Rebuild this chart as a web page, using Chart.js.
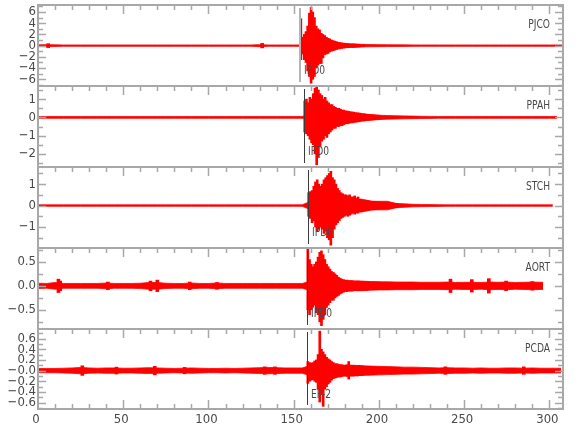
<!DOCTYPE html>
<html>
<head>
<meta charset="utf-8">
<script src="https://cdn.jsdelivr.net/npm/chart.js@4.4.0/dist/chart.umd.min.js"></script>
<style>
  html, body { margin: 0; padding: 0; background: #fff; }
  #wrap { position: relative; width: 580px; height: 440px; }
  #wrap canvas { position: absolute; left: 0; top: 0; }
</style>
</head>
<body>
<div id="wrap"></div>
<script>
// ---- data ----
const stations = ['PJCO', 'PPAH', 'STCH', 'AORT', 'PCDA']
const pickNames = ['IPD0', 'IPD0', 'IPD0', 'IPD0', 'EP-2']
const pickTimes = [153.7, 156.2, 158.6, 158.0, 158.0]
const traceEnd = [308, 304.5, 302, 296.3, 306.8]

const xTicks = [0, 50, 100, 150, 200, 250, 300]

const yMin = [-7.2, -2.72, -1.98, -0.9, -0.72]
const yMax = [7.25, 1.72, 1.8, 0.79, 0.78]
const yTickVals = [
  [-6, -4, -2, 0, 2, 4, 6],
  [-2, -1, 0, 1],
  [-1, 0, 1],
  [-0.5, 0, 0.5],
  [-0.6, -0.4, -0.2, 0, 0.2, 0.4, 0.6]
]
const yTickText = [
  ['−6', '−4', '−2', '0', '2', '4', '6'],
  ['−2', '−1', '0', '1'],
  ['−1', '0', '1'],
  ['−0.5', '0.0', '0.5'],
  ['−0.6', '−0.4', '−0.2', '−0.0', '0.2', '0.4', '0.6']
]
const yMinor = [1, 0.5, 0.5, 0.25, 0.1]

// background noise half-amplitude, one value every 5 s from t=0
const noiseStep = 5
const noise = [
  [0.15, 0.18, 0.15, 0.12, 0.12, 0.12, 0.12, 0.12, 0.12, 0.12,
   0.12, 0.12, 0.12, 0.12, 0.12, 0.12, 0.12, 0.12, 0.12, 0.12,
   0.12, 0.12, 0.12, 0.12, 0.12, 0.12, 0.18, 0.12, 0.12, 0.12,
   0.12, 0.12, 0.3, 0.3, 0.3, 0.3, 0.3, 0.3, 0.22, 0.2,
   0.18, 0.16, 0.15, 0.14, 0.13, 0.12, 0.12, 0.12, 0.12, 0.12,
   0.12, 0.12, 0.12, 0.12, 0.12, 0.12, 0.12, 0.12, 0.12, 0.12,
   0.12, 0.12],
  [0.05, 0.05, 0.05, 0.05, 0.05, 0.05, 0.05, 0.05, 0.05, 0.05,
   0.05, 0.05, 0.05, 0.05, 0.05, 0.05, 0.05, 0.05, 0.05, 0.05,
   0.05, 0.05, 0.05, 0.05, 0.05, 0.05, 0.05, 0.05, 0.05, 0.05,
   0.05, 0.05, 0.2, 0.2, 0.2, 0.2, 0.2, 0.2, 0.18, 0.15,
   0.12, 0.1, 0.09, 0.08, 0.07, 0.06, 0.055, 0.05, 0.05, 0.05,
   0.05, 0.05, 0.05, 0.05, 0.05, 0.05, 0.05, 0.05, 0.05, 0.05,
   0.05],
  [0.035, 0.035, 0.035, 0.035, 0.035, 0.035, 0.035, 0.035, 0.035, 0.035,
   0.035, 0.035, 0.035, 0.035, 0.035, 0.035, 0.035, 0.035, 0.035, 0.035,
   0.035, 0.035, 0.035, 0.035, 0.035, 0.035, 0.035, 0.035, 0.035, 0.035,
   0.035, 0.035, 0.2, 0.2, 0.2, 0.2, 0.2, 0.2, 0.2, 0.2,
   0.2, 0.2, 0.1, 0.08, 0.06, 0.05, 0.045, 0.04, 0.035, 0.035,
   0.035, 0.035, 0.035, 0.035, 0.035, 0.035, 0.035, 0.035, 0.035, 0.035,
   0.035],
  [0.055, 0.05, 0.07, 0.05, 0.05, 0.05, 0.05, 0.05, 0.06, 0.05,
   0.05, 0.05, 0.055, 0.07, 0.07, 0.055, 0.05, 0.05, 0.06, 0.05,
   0.05, 0.06, 0.05, 0.05, 0.05, 0.05, 0.05, 0.05, 0.05, 0.05,
   0.05, 0.05, 0.1, 0.1, 0.1, 0.1, 0.1, 0.1, 0.1, 0.09,
   0.085, 0.085, 0.08, 0.08, 0.08, 0.075, 0.075, 0.075, 0.08, 0.07,
   0.075, 0.075, 0.07, 0.08, 0.075, 0.08, 0.07, 0.075, 0.08, 0.075],
  [0.04, 0.04, 0.04, 0.045, 0.05, 0.06, 0.05, 0.045, 0.05, 0.05,
   0.045, 0.045, 0.05, 0.055, 0.05, 0.045, 0.04, 0.045, 0.05, 0.045,
   0.04, 0.04, 0.045, 0.04, 0.045, 0.05, 0.055, 0.06, 0.055, 0.05,
   0.05, 0.05, 0.1, 0.1, 0.1, 0.1, 0.1, 0.1, 0.09, 0.085,
   0.08, 0.075, 0.07, 0.065, 0.065, 0.06, 0.055, 0.05, 0.055, 0.05,
   0.05, 0.045, 0.05, 0.045, 0.045, 0.05, 0.05, 0.045, 0.05, 0.045,
   0.045, 0.045]
]

// short bursts in the noise: [time, half-amplitude]
const spikes = [
  [[6, 0.35], [131.5, 0.4]],
  [],
  [],
  [[12, 0.14], [13, 0.1], [41, 0.08], [66, 0.1], [70, 0.12], [89, 0.08], [105, 0.07],
   [242, 0.14], [254.5, 0.13], [264.5, 0.15], [274.6, 0.1], [290, 0.09]],
  [[26, 0.09], [46, 0.065], [68.5, 0.08], [86, 0.06], [133, 0.07], [139, 0.07], [239, 0.07], [285, 0.07]]
]

// strong motion: max / min of the trace in each second after the pick
const actStart = [154.2, 156.5, 158.8, 158.3, 158.3]
const actHi = [
  [4.8, 1.5, 2.0, 2.5, 3.5, 5.8, 6.8, 6.0, 5.0, 3.5, 3.0, 2.8, 2.2, 2.0, 1.8, 1.5, 1.3, 1.2, 1.0,
   0.9, 0.8, 0.7, 0.6, 0.55, 0.5, 0.45, 0.4, 0.4, 0.35, 0.3, 0.3, 0.3, 0.28, 0.25, 0.25, 0.22, 0.2, 0.2],
  [0.9, 1.0, 0.8, 1.1, 1.0, 1.3, 1.6, 1.7, 1.5, 1.3, 1.2, 1.0, 1.1, 0.9, 0.8, 0.7, 0.7, 0.6, 0.55,
   0.5, 0.5, 0.45, 0.4, 0.4, 0.35, 0.35, 0.33, 0.3, 0.3, 0.28, 0.26, 0.25, 0.24, 0.22, 0.2, 0.2,
   0.18, 0.17, 0.16, 0.15, 0.14, 0.13, 0.12, 0.12, 0.11],
  [0.6, 0.65, 0.7, 0.9, 1.1, 1.2, 1.0, 0.9, 1.0, 1.2, 1.3, 1.4, 1.5, 1.6, 1.3, 1.2, 1.0, 0.8, 0.7,
   0.6, 0.55, 0.5, 0.5, 0.45, 0.5, 0.4, 0.4, 0.45, 0.35, 0.4, 0.3, 0.3, 0.28, 0.27, 0.25, 0.24,
   0.22, 0.2, 0.2, 0.19, 0.18, 0.17, 0.16, 0.15, 0.15, 0.14, 0.13, 0.13, 0.12, 0.12, 0.11, 0.1, 0.1],
  [0.77, 0.55, 0.45, 0.4, 0.45, 0.5, 0.6, 0.7, 0.73, 0.65, 0.55, 0.45, 0.4, 0.35, 0.3, 0.28, 0.25,
   0.22, 0.18, 0.16, 0.14, 0.13, 0.12, 0.12, 0.11, 0.11, 0.11, 0.1, 0.1, 0.1, 0.1, 0.09, 0.09,
   0.09, 0.09, 0.09, 0.08, 0.08, 0.08, 0.08, 0.08, 0.08, 0.08],
  [0.17, 0.15, 0.14, 0.15, 0.18, 0.2, 0.3, 0.74, 0.4, 0.35, 0.3, 0.25, 0.22, 0.2, 0.17, 0.15,
   0.13, 0.13, 0.12, 0.11, 0.11, 0.1, 0.1, 0.11, 0.17, 0.1, 0.1, 0.1, 0.09, 0.09, 0.1, 0.09, 0.09]
]
const actLo = [
  [-2.5, -1.5, -2.5, -3.0, -4.5, -5.5, -6.7, -6.0, -5.5, -4.0, -3.5, -3.2, -3.2, -2.2, -1.6, -1.5,
   -1.4, -1.1, -1.0, -0.9, -0.8, -0.7, -0.6, -0.55, -0.5, -0.45, -0.4, -0.35, -0.35, -0.3, -0.3,
   -0.3, -0.28, -0.25, -0.25, -0.22, -0.2, -0.2],
  [-0.8, -0.9, -1.0, -1.2, -1.4, -1.5, -2.0, -2.6, -2.2, -1.6, -1.3, -1.2, -1.0, -1.1, -0.9, -0.8,
   -0.7, -0.6, -0.6, -0.5, -0.5, -0.45, -0.45, -0.4, -0.35, -0.35, -0.33, -0.3, -0.3, -0.28, -0.26,
   -0.25, -0.24, -0.22, -0.2, -0.2, -0.18, -0.17, -0.16, -0.15, -0.14, -0.13, -0.12, -0.12, -0.11],
  [-0.5, -0.6, -0.8, -0.7, -1.0, -1.2, -1.1, -1.0, -1.1, -1.3, -1.2, -1.5, -1.6, -1.85, -1.5, -1.1,
   -0.9, -0.8, -0.7, -0.6, -0.55, -0.5, -0.45, -0.5, -0.45, -0.4, -0.35, -0.4, -0.35, -0.35, -0.3,
   -0.3, -0.28, -0.27, -0.25, -0.24, -0.22, -0.2, -0.2, -0.19, -0.18, -0.17, -0.16, -0.15, -0.15,
   -0.14, -0.13, -0.13, -0.12, -0.12, -0.11, -0.1, -0.1],
  [-0.5, -0.6, -0.5, -0.45, -0.4, -0.55, -0.6, -0.75, -0.83, -0.7, -0.6, -0.45, -0.4, -0.35, -0.3,
   -0.3, -0.25, -0.22, -0.2, -0.17, -0.15, -0.13, -0.12, -0.12, -0.11, -0.11, -0.11, -0.1, -0.1,
   -0.1, -0.1, -0.09, -0.09, -0.09, -0.09, -0.09, -0.08, -0.08, -0.08, -0.08, -0.08, -0.08, -0.08],
  [-0.24, -0.2, -0.18, -0.17, -0.2, -0.22, -0.35, -0.59, -0.45, -0.67, -0.35, -0.3, -0.25, -0.22,
   -0.18, -0.15, -0.14, -0.13, -0.12, -0.12, -0.11, -0.1, -0.1, -0.11, -0.16, -0.1, -0.1, -0.1,
   -0.09, -0.1, -0.09, -0.09, -0.09]
]

// ---- layout ----
const panelTop = [5, 86, 167, 248, 329]
const panelBottom = [86, 167, 248, 329, 409]
const RED = '#ff0000'
const AXIS = '#a8a8a8'
const TEXT = '#4a4a4a'
const FONT_FAMILY = '"Liberation Sans Narrow", "DejaVu Sans Condensed", "Liberation Sans", sans-serif'

// narrow text like the plotting package's stroke font
function narrowText(ctx, str, x, y, align) {
  ctx.save()
  ctx.translate(x, y)
  ctx.scale(0.78, 1)
  ctx.textAlign = align
  ctx.fillText(str, 0, 0)
  ctx.restore()
}

const framePlugin = {
  id: 'frame',
  afterDraw(chart, args, opts) {
    const i = opts.idx
    const last = i === stations.length - 1
    const { ctx, chartArea: a } = chart
    const x = chart.scales.x
    const y = chart.scales.y
    ctx.save()

    // pick line
    const px = Math.round(x.getPixelForValue(pickTimes[i]))
    const lx = i === 0 ? px : px + 0.5
    ctx.strokeStyle = i === 0 ? '#b4b4b4' : '#3c3c3c'
    ctx.lineWidth = i === 0 ? 2 : 1
    ctx.beginPath()
    ctx.moveTo(lx, a.top + 3)
    ctx.lineTo(lx, a.bottom - 4)
    ctx.stroke()

    // frame
    ctx.strokeStyle = AXIS
    ctx.lineWidth = 2
    ctx.strokeRect(a.left, a.top, a.right - a.left, a.bottom - a.top)

    // x ticks, pointing inward
    ctx.lineWidth = 1.5
    ctx.beginPath()
    for (let v = 10; v < x.max; v += 10) {
      const tx = Math.round(x.getPixelForValue(v)) + 0.5
      const len = v % 50 === 0 ? 9 : 5
      ctx.moveTo(tx, a.top)
      ctx.lineTo(tx, a.top + len)
      if (last) {
        ctx.moveTo(tx, a.bottom)
        ctx.lineTo(tx, a.bottom - len)
      }
    }
    // y ticks on both sides
    const step = yMinor[i]
    for (let k = Math.ceil(y.min / step); k * step <= y.max + 1e-9; k++) {
      const v = k * step
      const ty = Math.round(y.getPixelForValue(v)) + 0.5
      const major = yTickVals[i].some(t => Math.abs(t - v) < 1e-6)
      const len = major ? 8 : 5
      ctx.moveTo(a.left, ty)
      ctx.lineTo(a.left + len, ty)
      ctx.moveTo(a.right, ty)
      ctx.lineTo(a.right - len, ty)
    }
    ctx.stroke()

    // station and pick labels
    ctx.fillStyle = TEXT
    ctx.font = '13px ' + FONT_FAMILY
    ctx.textBaseline = 'middle'
    narrowText(ctx, stations[i], 550, a.top + 20, 'right')
    narrowText(ctx, pickNames[i], px + 4, a.top + 66, 'left')
    ctx.restore()
  }
}

const wrap = document.getElementById('wrap')

stations.forEach((name, i) => {
  const last = i === stations.length - 1
  const canvas = document.createElement('canvas')
  canvas.width = 580
  canvas.height = 440
  wrap.appendChild(canvas)

  const bars = actHi[i].map((h, k) => ({ x: actStart[i] + k, y: [actLo[i][k], h] }))
  const bursts = spikes[i].map(([t, amp]) => ({ x: t, y: [-amp, amp] }))
  const band = sign => {
    const pts = noise[i].map((v, k) => ({ x: k * noiseStep, y: sign * v }))
    pts.push({ x: traceEnd[i], y: sign * noise[i][noise[i].length - 1] })
    return pts
  }

  new Chart(canvas, {
    type: 'bar',
    data: {
      datasets: [
        { type: 'bar', data: bars, backgroundColor: RED, borderWidth: 0, barThickness: 2, grouped: false },
        { type: 'bar', data: bursts, backgroundColor: RED, borderWidth: 0, barThickness: 3, grouped: false },
        { type: 'line', data: band(1), borderColor: RED, borderWidth: 0.8, pointRadius: 0, tension: 0, fill: false },
        { type: 'line', data: band(-1), borderColor: RED, borderWidth: 0.8, pointRadius: 0, tension: 0,
          fill: '-1', backgroundColor: RED }
      ]
    },
    options: {
      responsive: false,
      animation: false,
      devicePixelRatio: 1,
      layout: { padding: { left: 0, right: 17, top: panelTop[i], bottom: 440 - panelBottom[i] - (last ? 20 : 0) } },
      plugins: {
        legend: { display: false },
        tooltip: { enabled: false },
        frame: { idx: i }
      },
      scales: {
        x: {
          type: 'linear',
          min: 0,
          max: 308,
          offset: false,
          display: last,
          grid: { display: false, drawTicks: false, offset: false },
          border: { display: false },
          afterBuildTicks: s => { s.ticks = xTicks.map(v => ({ value: v })) },
          afterFit: s => {
            if (last) s.height = 20
            s.paddingLeft = 0
            s.paddingRight = 0
          },
          ticks: {
            autoSkip: false,
            maxRotation: 0,
            padding: 3,
            labelOffset: -2,
            color: TEXT,
            font: { family: FONT_FAMILY, size: 13 },
            callback: v => String(v)
          }
        },
        y: {
          min: yMin[i],
          max: yMax[i],
          grid: { display: false, drawTicks: false },
          border: { display: false },
          afterBuildTicks: s => { s.ticks = yTickVals[i].map(v => ({ value: v })) },
          afterFit: s => { s.width = 38; s.paddingTop = 0; s.paddingBottom = 0 },
          ticks: {
            autoSkip: false,
            padding: 2,
            color: TEXT,
            font: { family: FONT_FAMILY, size: 13 },
            callback: (v, k) => yTickText[i][k]
          }
        }
      }
    },
    plugins: [framePlugin]
  })
})
</script>
</body>
</html>
